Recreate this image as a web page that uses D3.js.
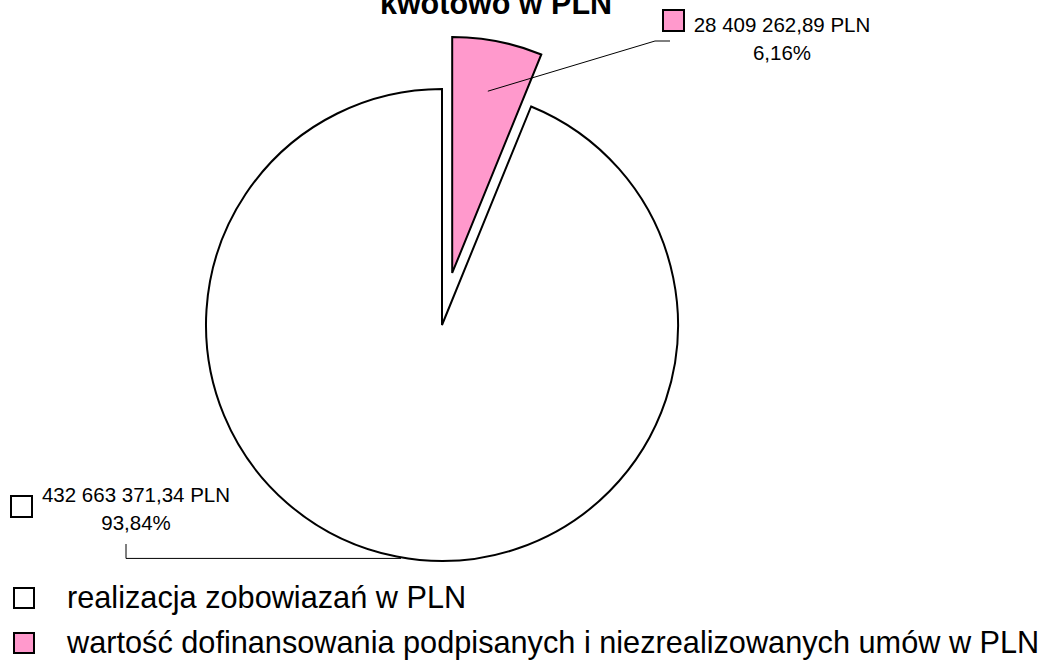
<!DOCTYPE html>
<html>
    <head>
        <meta charset="utf-8">
        <title>kwotowo w PLN</title>
        <style>
            body {
                margin: 0;
                background: #ffffff;
            }
            .chart text {
                font-family: "Liberation Sans", Arial, sans-serif;
                fill: #000000;
            }
        </style>
        <script src="https://cdnjs.cloudflare.com/ajax/libs/d3/7.8.5/d3.min.js" charset="utf-8"></script>
    </head>
    <body>
        <div class="ChartContainer"></div>
        <script>
            // data
            const title = "kwotowo w PLN";
            const categories = [
                "realizacja zobowiazań w PLN",
                "wartość dofinansowania podpisanych i niezrealizowanych umów w PLN"
            ];
            const values = [432663371.34, 28409262.89];
            const colors = ["#ffffff", "#ff99cc"];

            const w = 1059;
            const h = 667;
            const cx = 442;
            const cy = 325;
            const radius = 236;
            const explodeDist = [0, 53];

            // polish number format: "432 663 371,34"
            const pl = d3.formatLocale({decimal: ",", thousands: " ", grouping: [3], currency: ["", " PLN"]});
            const fmtValue = pl.format(",.2f");
            const fmtPct = pl.format(".2%");

            const total = d3.sum(values);

            const svg = d3.select(".ChartContainer")
                .append("svg")
                .attr("class", "chart")
                .attr("width", w)
                .attr("height", h);

            svg.append("text")
                .attr("x", 496)
                .attr("y", 14)
                .attr("text-anchor", "middle")
                .style("font-size", "30.5px")
                .style("font-weight", "bold")
                .text(title);

            // the small slice sits at the top, right of 12 o'clock
            const start = 2 * Math.PI * values[1] / total;
            const pie = d3.pie()
                .sort(null)
                .value(d => d)
                .startAngle(start)
                .endAngle(start + 2 * Math.PI);

            const arcs = pie(values);
            const arc = d3.arc().innerRadius(0).outerRadius(radius);

            const offset = (d, i) => {
                const mid = (d.startAngle + d.endAngle) / 2;
                return d3.pointRadial(mid, explodeDist[i]);
            };

            const g = svg.append("g")
                .attr("transform", "translate(" + cx + "," + cy + ")");

            g.selectAll("path.slice")
                .data(arcs)
                .enter()
                .append("path")
                .attr("class", "slice")
                .attr("d", arc)
                .attr("transform", (d, i) => "translate(" + offset(d, i) + ")")
                .attr("fill", (d, i) => colors[i])
                .attr("stroke", "#000000")
                .attr("stroke-width", 2)
                .attr("stroke-linejoin", "miter");

            // leader lines
            const pinkArc = arcs[1];
            const pinkMid = (pinkArc.startAngle + pinkArc.endAngle) / 2;
            const po = offset(pinkArc, 1);
            const pinkStart = d3.pointRadial(pinkMid, radius * 0.785);
            const pinkLine = [
                [cx + po[0] + pinkStart[0], cy + po[1] + pinkStart[1]],
                [655, 41],
                [670, 41]
            ];

            const whiteEnd = d3.pointRadial(Math.PI * 190 / 180, radius);
            const whiteLine = [
                [126, 544],
                [126, cy + whiteEnd[1] + 1],
                [cx + whiteEnd[0], cy + whiteEnd[1] + 1]
            ];

            svg.selectAll("path.leader")
                .data([whiteLine, pinkLine])
                .enter()
                .append("path")
                .attr("class", "leader")
                .attr("d", d3.line())
                .attr("fill", "none")
                .attr("stroke", "#000000")
                .attr("stroke-width", 1);

            // data labels
            const labelPos = [
                {x: 136, y: 502, keyX: 11, keyY: 496},
                {x: 782, y: 32, keyX: 663, keyY: 10}
            ];

            const labels = svg.selectAll("g.dlabel")
                .data(values)
                .enter()
                .append("g")
                .attr("class", "dlabel");

            labels.append("rect")
                .attr("x", (d, i) => labelPos[i].keyX)
                .attr("y", (d, i) => labelPos[i].keyY)
                .attr("width", 21)
                .attr("height", 21)
                .attr("fill", (d, i) => colors[i])
                .attr("stroke", "#000000")
                .attr("stroke-width", 2);

            labels.append("text")
                .attr("x", (d, i) => labelPos[i].x)
                .attr("y", (d, i) => labelPos[i].y)
                .attr("text-anchor", "middle")
                .style("font-size", "20.5px")
                .text(d => fmtValue(d) + " PLN");

            labels.append("text")
                .attr("x", (d, i) => labelPos[i].x)
                .attr("y", (d, i) => labelPos[i].y + 28)
                .attr("text-anchor", "middle")
                .style("font-size", "20.5px")
                .text(d => fmtPct(d / total));

            // legend
            const legend = svg.selectAll("g.legend")
                .data(categories)
                .enter()
                .append("g")
                .attr("class", "legend")
                .attr("transform", (d, i) => "translate(0," + (i * 45) + ")");

            legend.append("rect")
                .attr("x", 14)
                .attr("y", 588)
                .attr("width", 20)
                .attr("height", 20)
                .attr("fill", (d, i) => colors[i])
                .attr("stroke", "#000000")
                .attr("stroke-width", 2);

            legend.append("text")
                .attr("x", 67)
                .attr("y", 608)
                .style("font-size", "30.7px")
                .text(d => d);
        </script>
    </body>
</html>
